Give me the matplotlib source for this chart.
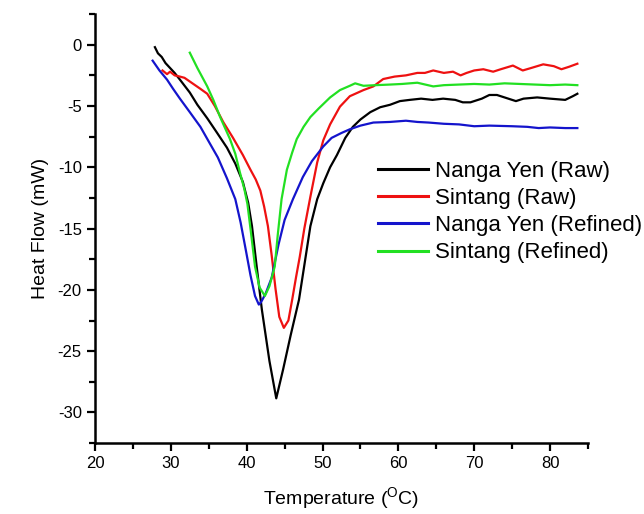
import numpy as np
import matplotlib
matplotlib.use("Agg")
import matplotlib.pyplot as plt
from matplotlib.ticker import MultipleLocator

plt.rcParams['font.family'] = ['Liberation Sans', 'DejaVu Sans']
plt.rcParams['axes.unicode_minus'] = False
plt.rcParams['mathtext.fontset'] = 'custom'
plt.rcParams['mathtext.rm'] = 'Liberation Sans'

# Nanga Yen (Raw)
ny_raw_x = [27.9, 28.3, 28.8, 29.3, 29.9, 30.5, 31.2, 32.5, 33.5, 34.8, 36.0, 37.4, 38.5,
            39.5, 40.2, 40.7, 41.3, 42.0, 43.0, 43.9, 44.8, 45.8, 46.9, 47.8, 48.4, 49.3,
            50.1, 51.0, 51.9, 53.0, 54.0, 55.0, 56.3, 57.6, 58.9, 60.2, 61.5, 63.0, 64.5,
            65.9, 67.5, 68.5, 69.5, 71.0, 72.0, 73.0, 74.5, 75.5, 76.5, 78.3, 80.0, 82.0,
            83.0, 83.6]
ny_raw_y = [-0.2, -0.7, -1.0, -1.5, -1.9, -2.3, -2.85, -3.9, -4.9, -6.0, -7.1, -8.4, -9.7,
            -11.2, -12.9, -14.8, -18.0, -21.6, -25.8, -28.85, -26.5, -23.7, -20.8, -17.2,
            -14.8, -12.6, -11.3, -10.0, -9.0, -7.6, -6.7, -6.1, -5.5, -5.1, -4.9, -4.6, -4.5,
            -4.4, -4.5, -4.4, -4.5, -4.7, -4.7, -4.4, -4.1, -4.1, -4.4, -4.6, -4.4, -4.3,
            -4.4, -4.5, -4.2, -4.0]

# Sintang (Raw)
st_raw_x = [28.9, 29.5, 29.9, 30.5, 31.2, 31.8, 32.5, 33.2, 33.9, 34.8, 35.8, 36.9, 38.2,
            39.5, 40.5, 41.2, 41.8, 42.3, 42.8, 43.3, 43.8, 44.3, 44.9, 45.5, 46.0, 46.5,
            47.0, 47.6, 48.4, 49.3, 50.1, 51.0, 52.3, 53.6, 55.4, 56.7, 58.0, 59.5, 61.0,
            62.5, 63.5, 64.6, 66.0, 67.2, 68.2, 69.0, 70.0, 71.2, 72.5, 73.5, 75.1, 76.4,
            77.5, 79.1, 80.5, 81.5, 82.5, 83.6]
st_raw_y = [-2.1, -2.4, -2.2, -2.5, -2.6, -2.7, -3.0, -3.3, -3.6, -4.0, -5.0, -6.3, -7.6,
            -9.0, -10.2, -11.0, -11.9, -13.2, -14.8, -17.2, -19.9, -22.2, -23.1, -22.5,
            -20.8, -19.0, -17.3, -15.0, -12.4, -9.6, -7.8, -6.5, -5.05, -4.2, -3.7, -3.4,
            -2.8, -2.6, -2.5, -2.3, -2.3, -2.1, -2.3, -2.2, -2.5, -2.3, -2.1, -2.0, -2.2,
            -2.0, -1.7, -2.1, -1.9, -1.6, -1.75, -2.0, -1.8, -1.55]

# Nanga Yen (Refined)
ny_ref_x = [27.6, 28.5, 29.5, 30.3, 31.2, 32.5, 33.9, 35.0, 36.2, 37.4, 38.5, 39.2, 39.9,
            40.5, 41.1, 41.6, 41.9, 42.5, 43.3, 44.2, 45.0, 46.1, 47.4, 48.6, 50.1, 51.2,
            52.5, 53.6, 55.0, 56.7, 58.9, 61.0, 62.5, 64.0, 66.0, 68.0, 70.0, 72.0, 75.0,
            77.0, 78.5, 80.0, 82.0, 83.6]
ny_ref_y = [-1.3, -2.1, -2.85, -3.6, -4.4, -5.5, -6.7, -7.9, -9.2, -10.9, -12.6, -14.5,
            -16.8, -18.8, -20.5, -21.2, -21.0, -20.3, -19.0, -16.3, -14.3, -12.6, -10.8,
            -9.5, -8.3, -7.6, -7.2, -6.9, -6.6, -6.35, -6.3, -6.2, -6.3, -6.35, -6.45, -6.5,
            -6.65, -6.6, -6.65, -6.7, -6.8, -6.75, -6.8, -6.8]

# Sintang (Refined)
st_ref_x = [32.5, 33.5, 34.8, 35.6, 36.5, 37.8, 38.5, 39.1, 39.7, 40.1, 40.6, 41.1, 41.7,
            42.4, 43.0, 43.7, 44.1, 44.6, 45.3, 46.0, 46.6, 47.5, 48.4, 49.5, 51.0, 52.3,
            53.6, 54.3, 55.4, 57.0, 58.9, 60.5, 62.5, 64.6, 66.0, 68.0, 70.0, 72.0, 74.0,
            76.0, 78.0, 80.0, 82.0, 83.6]
st_ref_y = [-0.65, -1.9, -3.4, -4.5, -5.9, -7.7, -8.9, -10.4, -11.8, -13.0, -15.5, -18.1,
            -19.8, -20.5, -19.7, -18.1, -15.5, -12.6, -10.2, -8.8, -7.7, -6.7, -5.9, -5.2,
            -4.3, -3.7, -3.35, -3.15, -3.35, -3.3, -3.25, -3.2, -3.1, -3.4, -3.3, -3.25,
            -3.2, -3.25, -3.15, -3.2, -3.25, -3.3, -3.25, -3.3]

fig = plt.figure(figsize=(6.44, 5.14), dpi=100)
ax = fig.add_axes([0.1475, 0.138, 0.7655, 0.8346])

ax.plot(ny_raw_x, ny_raw_y, color='black', lw=1.6, label='Nanga Yen (Raw)')
ax.plot(st_raw_x, st_raw_y, color='#ee1111', lw=1.6, label='Sintang (Raw)')
ax.plot(ny_ref_x, ny_ref_y, color='#1414cc', lw=1.6, label='Nanga Yen (Refined)')
ax.plot(st_ref_x, st_ref_y, color='#22e022', lw=1.6, label='Sintang (Refined)')

ax.set_xlim(20, 85)
ax.set_ylim(-32.5, 2.5)
ax.xaxis.set_minor_locator(MultipleLocator(5))
ax.yaxis.set_minor_locator(MultipleLocator(2.5))
ax.set_xticks([20, 30, 40, 50, 60, 70, 80])
ax.set_yticks([-30, -25, -20, -15, -10, -5, 0])

ax.spines['right'].set_visible(False)
ax.spines['top'].set_visible(False)
ax.spines['left'].set_linewidth(1.8)
ax.spines['bottom'].set_linewidth(1.8)
ax.tick_params(which='major', direction='out', length=6, width=1.6, labelsize=12)
ax.tick_params(which='minor', direction='out', length=4, width=1.6)

ax.set_xlabel(r'Temperature ($\mathregular{^{O}}$C)', size=14, labelpad=10)
ax.set_ylabel('Heat Flow (mW)', size=14, labelpad=6)

leg = ax.legend(loc='upper left', bbox_to_anchor=(0.574, 0.658), frameon=False,
                fontsize=16, handlelength=2.25, handletextpad=0.32, labelspacing=0.28,
                borderpad=0, borderaxespad=0)
for line in leg.get_lines():
    line.set_linewidth(2.2)

plt.savefig('out.png', dpi=100)
plt.close()
